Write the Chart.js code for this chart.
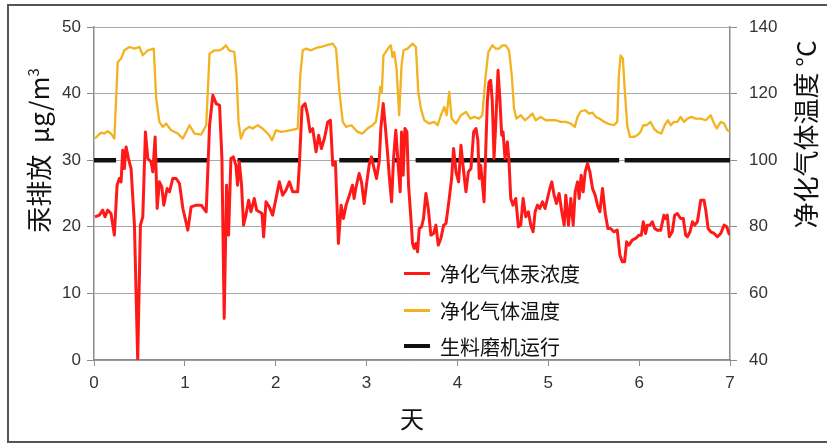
<!DOCTYPE html>
<html>
<head>
<meta charset="utf-8">
<script src="https://cdn.jsdelivr.net/npm/chart.js@4.4.1/dist/chart.umd.min.js"></script>
<style>
  html, body { margin: 0; padding: 0; background: #fff; }
  #wrap { position: relative; width: 827px; height: 446px; overflow: hidden; }
  #frame { position: absolute; left: 7px; top: 4px; width: 840px; height: 439px;
           border: 2px solid #555; border-right: none; box-sizing: border-box; pointer-events: none; }
  .ytitle { position: absolute; white-space: nowrap; font-family: "Noto Sans CJK SC", sans-serif;
            font-size: 26px; color: #111; transform-origin: center center; }
  .legend-row { position: absolute; left: 404px; height: 30px; display: flex; align-items: center;
                font-family: "Noto Sans CJK SC", sans-serif; font-size: 20px; color: #111; }
  .legend-row .swatch { display: inline-block; width: 26px; margin-right: 10px; }
</style>
</head>
<body>
<div id="wrap">
  <canvas id="chart" width="827" height="446"></canvas>
  <div id="frame"></div>
  <div class="ytitle" id="leftTitle">汞排放&nbsp;&nbsp;μg/m<sup style="font-size:15px">3</sup></div>
  <div class="ytitle" id="rightTitle">净化气体温度&nbsp;°C</div>
  <div class="legend-row" style="top:258px"><span class="swatch" style="border-top:3px solid #ff1a1a"></span>净化气体汞浓度</div>
  <div class="legend-row" style="top:295px"><span class="swatch" style="border-top:3px solid #f3b21f"></span>净化气体温度</div>
  <div class="legend-row" style="top:331px"><span class="swatch" style="border-top:4px solid #111"></span>生料磨机运行</div>
</div>
<script>
// mercury concentration of cleaned gas (left axis, µg/m3)
const hgDays = [
  0.01, 0.059, 0.096, 0.121, 0.151, 0.187, 0.224, 0.254, 0.279, 0.298, 0.316, 0.334, 0.353, 0.379, 0.408,
  0.445, 0.481, 0.511, 0.537, 0.566, 0.592, 0.628, 0.647, 0.673, 0.695, 0.720, 0.746, 0.768, 0.805, 0.831,
  0.867, 0.904, 0.941, 0.978, 1.033, 1.069, 1.125, 1.180, 1.235, 1.272, 1.308, 1.345, 1.382, 1.408, 1.433,
  1.459, 1.481, 1.507, 1.533, 1.562, 1.580, 1.599, 1.624, 1.646, 1.672, 1.702, 1.727, 1.764, 1.790, 1.819,
  1.849, 1.867, 1.893, 1.929, 1.966, 2.003, 2.040, 2.076, 2.113, 2.150, 2.187, 2.242, 2.260, 2.290, 2.323,
  2.352, 2.378, 2.407, 2.444, 2.473, 2.503, 2.536, 2.573, 2.602, 2.628, 2.657, 2.690, 2.720, 2.745, 2.775,
  2.811, 2.845, 2.863, 2.881, 2.918, 2.944, 2.973, 3.003, 3.028, 3.054, 3.083, 3.109, 3.139, 3.157, 3.183,
  3.205, 3.230, 3.249, 3.275, 3.297, 3.322, 3.348, 3.370, 3.385, 3.403, 3.422, 3.444, 3.462, 3.488, 3.506,
  3.524, 3.543, 3.561, 3.580, 3.605, 3.627, 3.653, 3.679, 3.708, 3.738, 3.763, 3.789, 3.818, 3.848, 3.874,
  3.910, 3.936, 3.958, 3.984, 4.013, 4.039, 4.065, 4.094, 4.120, 4.149, 4.179, 4.204, 4.225, 4.240, 4.256,
  4.274, 4.293, 4.311, 4.329, 4.348, 4.366, 4.384, 4.403, 4.421, 4.447, 4.469, 4.487, 4.502, 4.524, 4.550,
  4.568, 4.587, 4.612, 4.642, 4.671, 4.697, 4.723, 4.752, 4.781, 4.807, 4.833, 4.855, 4.881, 4.906, 4.936,
  4.965, 4.991, 5.017, 5.039, 5.064, 5.090, 5.119, 5.149, 5.175, 5.193, 5.222, 5.248, 5.274, 5.296, 5.322,
  5.340, 5.362, 5.384, 5.406, 5.432, 5.458, 5.487, 5.516, 5.542, 5.568, 5.597, 5.627, 5.656, 5.686, 5.722,
  5.759, 5.788, 5.814, 5.840, 5.862, 5.888, 5.924, 5.961, 5.998, 6.024, 6.046, 6.071, 6.090, 6.119, 6.145,
  6.171, 6.200, 6.237, 6.273, 6.292, 6.310, 6.332, 6.365, 6.391, 6.420, 6.457, 6.486, 6.512, 6.531, 6.560,
  6.586, 6.612, 6.641, 6.678, 6.714, 6.736, 6.759, 6.788, 6.825, 6.861, 6.898, 6.935, 6.964, 6.994
];
const hgValues = [
  21.5, 21.75, 22.5, 21.5, 22.5, 22, 18.75, 26.25, 27.25, 26.75, 31.5, 28.75, 32, 30.25, 28.75,
  20.25, 0, 20.25, 21.5, 34.25, 30.25, 29.75, 28.25, 33.5, 22.75, 26.75, 26, 23.25, 25.75, 25.25,
  27.25, 27.25, 26.5, 22.75, 19.5, 23, 23.25, 23.25, 22.25, 35.25, 39.75, 38.5, 38.25, 30.25, 6.25,
  26.25, 18.75, 30.25, 30.5, 29.25, 26.25, 29.75, 26.25, 20.25, 21.75, 24, 22.25, 24.25, 22.5, 22.25,
  22, 18.5, 23.75, 23, 21.75, 24.25, 26.75, 24.75, 25.5, 26.75, 25.25, 25.25, 29.25, 38, 38.5,
  36.75, 34.25, 34.75, 31.25, 33.75, 31.75, 33.25, 35.75, 36, 29.25, 29.75, 17.5, 23.25, 21.25, 23.25,
  24.75, 26.25, 24.25, 25.75, 28, 26.75, 23.5, 26.75, 29.25, 30.5, 28.75, 27.25, 29.75, 34.75, 38.5,
  35.25, 31.25, 27.75, 23.75, 30.25, 34.5, 29.25, 25.25, 34.25, 27.75, 34.75, 34.25, 26.25, 21.25, 17.5,
  16.75, 17.5, 16.25, 19.75, 20, 21.25, 25, 22.75, 18.75, 19, 20.25, 17.25, 18.25, 20.25, 20.5,
  24.25, 27.25, 31.75, 28.25, 26.75, 32.25, 28.75, 25.25, 28.25, 28.75, 34.25, 34.75, 33, 27.25, 29.25,
  26.75, 23.75, 31.25, 38.75, 41.75, 42, 38.75, 30.25, 35.25, 43.5, 38.75, 33.75, 34.25, 30.25, 32.75,
  29.75, 24.25, 23.25, 24.25, 20, 20.25, 24.25, 21.5, 22.25, 20.25, 19.25, 22.25, 23.25, 22.75, 23.75,
  22.75, 24.25, 25.75, 26.75, 24.75, 23.5, 25, 22.25, 20.25, 24.75, 20.25, 24.25, 20.25, 25.25, 26.75,
  24.25, 27.75, 25.25, 28.25, 29.5, 28.25, 25.75, 24.75, 23.25, 22.25, 25.75, 22, 19.75, 19.75, 19.25,
  19.5, 15.75, 14.75, 14.75, 17.75, 17.25, 18, 18.25, 18.75, 18.75, 20.75, 19, 20.25, 20.25, 20.75,
  19.75, 19.5, 19.5, 21.75, 21.25, 21.75, 18.5, 19.25, 21.75, 22, 21.25, 21.25, 18.75, 18.5, 19.25,
  20.75, 20.25, 20.75, 24, 24, 22.25, 19.75, 19.25, 19, 18.5, 19, 20.25, 20, 18.75
];

// cleaned gas temperature (right axis, °C)
const tempDays = [
  0.01, 0.077, 0.114, 0.151, 0.187, 0.224, 0.261, 0.298, 0.334, 0.390, 0.445, 0.500, 0.537, 0.592, 0.658,
  0.684, 0.720, 0.757, 0.794, 0.849, 0.922, 0.978, 1.051, 1.106, 1.180, 1.235, 1.272, 1.327, 1.382, 1.415,
  1.452, 1.488, 1.544, 1.569, 1.591, 1.617, 1.654, 1.709, 1.746, 1.801, 1.856, 1.893, 1.929, 1.959, 2.003,
  2.058, 2.113, 2.168, 2.242, 2.271, 2.297, 2.334, 2.389, 2.444, 2.499, 2.554, 2.628, 2.664, 2.701, 2.738,
  2.775, 2.833, 2.900, 2.955, 3.010, 3.065, 3.102, 3.131, 3.150, 3.168, 3.186, 3.212, 3.249, 3.267, 3.286,
  3.304, 3.330, 3.359, 3.385, 3.407, 3.451, 3.506, 3.543, 3.569, 3.598, 3.635, 3.690, 3.745, 3.782, 3.818,
  3.855, 3.881, 3.910, 3.936, 3.984, 4.039, 4.094, 4.142, 4.186, 4.237, 4.274, 4.311, 4.340, 4.384, 4.421,
  4.458, 4.495, 4.532, 4.568, 4.598, 4.623, 4.649, 4.697, 4.745, 4.789, 4.825, 4.862, 4.917, 4.972, 5.028,
  5.083, 5.138, 5.193, 5.248, 5.292, 5.322, 5.358, 5.406, 5.450, 5.487, 5.524, 5.561, 5.616, 5.656, 5.722,
  5.759, 5.777, 5.796, 5.821, 5.843, 5.869, 5.899, 5.943, 5.979, 6.016, 6.046, 6.082, 6.126, 6.163, 6.200,
  6.244, 6.281, 6.317, 6.347, 6.384, 6.420, 6.457, 6.494, 6.531, 6.575, 6.623, 6.678, 6.733, 6.788, 6.817,
  6.854, 6.898, 6.935, 6.971, 6.995
];
const tempValues = [
  106.5, 108.3, 108, 108.7, 108, 106.5, 129.5, 130.5, 133, 134, 133.5, 134, 131.5, 133, 133.5,
  118.5, 111.5, 110, 111, 109, 108, 106.5, 110.5, 108, 107.7, 110.5, 132, 133, 133, 133.5,
  134.5, 133, 132.5, 125.5, 111.5, 106.5, 109, 110, 109.5, 110.5, 109.5, 108.5, 107.5, 106, 109,
  108.5, 108.7, 109, 109.5, 125.5, 133, 133.5, 133, 133.7, 134, 134.5, 135, 133.5, 120.5, 111.5,
  110, 110.5, 108.5, 108, 109.5, 110.5, 111.5, 116.5, 122, 120.5, 131.5, 132.5, 134, 134.5, 131,
  132.5, 127.5, 113.5, 128.5, 133, 133.5, 135, 134, 120.5, 115.5, 112, 111, 111.5, 110.5, 113.5,
  116, 113.5, 120.5, 112.5, 111, 113.5, 114.5, 112.5, 113, 112.5, 113.5, 125.5, 132.5, 134.5, 133.5,
  133.5, 134.5, 134.5, 133, 125.5, 115.5, 112.5, 113.5, 112, 113, 114, 112, 113, 112, 112,
  112, 111.5, 111.5, 111, 110, 113, 114.7, 115, 114, 114.3, 113, 112.5, 111.5, 111, 110.5,
  111.5, 125.5, 131.5, 130.5, 120.5, 110.5, 107, 107, 107.5, 108.5, 110.5, 110.5, 111.5, 109.5, 108.5,
  108, 110.5, 112, 110.5, 111.5, 111.5, 113, 111.5, 112.5, 113, 112.5, 112.5, 112, 113.5, 111.5,
  109.5, 111.5, 111, 109, 108.7
];

// raw mill running periods (days), drawn at the left-axis level below
const millStart = [0, 0.684, 1.58, 2.70, 3.31, 3.54, 5.84];
const millEnd = [0.243, 1.253, 2.26, 3.14, 3.40, 5.78, 7.0];
const millLevel = 30;

const hgData = hgDays.map((d, i) => ({ x: d, y: hgValues[i] }));
const tempData = tempDays.map((d, i) => ({ x: d, y: tempValues[i] }));
const millData = [];
millStart.forEach((s, i) => {
  millData.push({ x: s, y: millLevel }, { x: millEnd[i], y: millLevel }, { x: millEnd[i], y: null });
});

const tickFont = { family: "'Liberation Sans', Arial, sans-serif", size: 17 };
const axisGray = "#8c8c8c";

new Chart(document.getElementById("chart"), {
  type: "line",
  data: {
    datasets: [
      { label: "净化气体汞浓度", data: hgData, yAxisID: "y", borderColor: "#ff1a1a", borderWidth: 3 },
      { label: "净化气体温度", data: tempData, yAxisID: "y1", borderColor: "#f3b21f", borderWidth: 2.3 },
      { label: "生料磨机运行", data: millData, yAxisID: "y", borderColor: "#111", borderWidth: 4.5, spanGaps: false },
    ],
  },
  options: {
    responsive: false,
    devicePixelRatio: 1,
    animation: false,
    elements: { point: { radius: 0 }, line: { tension: 0, borderJoinStyle: "round" } },
    layout: { padding: { top: 27, left: 0, right: 0, bottom: 0 } },
    plugins: { legend: { display: false }, tooltip: { enabled: false } },
    scales: {
      x: {
        type: "linear", min: 0, max: 7,
        ticks: { stepSize: 1, color: "#333", font: tickFont, padding: 7 },
        grid: { drawOnChartArea: false, tickLength: 6, tickColor: axisGray },
        border: { color: axisGray, width: 1.5 },
        title: { display: true, text: "天", color: "#111",
                 font: { family: "'Noto Sans CJK SC', sans-serif", size: 24 }, padding: { top: 0, bottom: 13 } },
        afterFit: (s) => { s.height = 86; },
      },
      y: {
        position: "left", min: 0, max: 50,
        ticks: { stepSize: 10, color: "#333", font: tickFont, padding: 6 },
        grid: { color: "#a8a8a8", lineWidth: 1, tickLength: 7, tickColor: axisGray },
        border: { color: axisGray, width: 1.5 },
        afterFit: (s) => { s.width = 94; },
      },
      y1: {
        position: "right", min: 40, max: 140,
        ticks: { stepSize: 20, color: "#333", font: tickFont, padding: 12 },
        grid: { drawOnChartArea: false, tickLength: 7, tickColor: axisGray },
        border: { color: axisGray, width: 1.5 },
        afterFit: (s) => { s.width = 97; },
      },
    },
  },
});

// place rotated axis titles (both read bottom to top)
function placeTitle(id, cx, cy, deg) {
  const t = document.getElementById(id);
  const w = t.offsetWidth, h = t.offsetHeight;
  t.style.left = (cx - w / 2) + "px";
  t.style.top = (cy - h / 2) + "px";
  t.style.transform = `rotate(${deg}deg)`;
}
placeTitle("leftTitle", 37, 150, -90);
placeTitle("rightTitle", 804, 134, -90);
</script>
</body>
</html>
